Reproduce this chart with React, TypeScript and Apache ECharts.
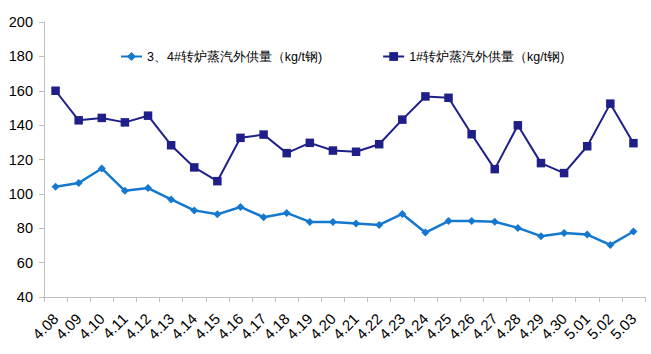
import React, { useEffect, useRef } from "react";
import * as echarts from "echarts";

const categories = ["4.08","4.09","4.10","4.11","4.12","4.13","4.14","4.15","4.16","4.17","4.18","4.19","4.20","4.21","4.22","4.23","4.24","4.25","4.26","4.27","4.28","4.29","4.30","5.01","5.02","5.03"];
const series34Name = "3、4#转炉蒸汽外供量（kg/t钢)";
const series1Name = "1#转炉蒸汽外供量（kg/t钢)";
const series34 = [104.2,106.3,114.8,101.8,103.4,96.8,90.4,88.1,92.4,86.4,88.9,83.7,83.7,82.7,81.9,88.3,77.5,84.2,84.2,83.8,80.2,75.4,77.3,76.3,70.3,78.1];
const series1 = [160.0,142.8,144.2,141.6,145.5,128.3,115.4,107.4,132.6,134.5,123.7,129.7,125.2,124.5,128.9,143.2,156.7,155.9,134.7,114.4,139.9,117.9,112.1,127.7,152.5,129.5];

const FONT = "'Liberation Sans', Arial, sans-serif";

export default function App() {
  const ref = useRef<HTMLDivElement>(null);
  useEffect(() => {
    if (!ref.current) return;
    const chart = echarts.init(ref.current, undefined, { renderer: "svg" });
    chart.setOption({
      animation: false,
      backgroundColor: "#ffffff",
      grid: { left: 44, right: 6, top: 22, bottom: 57, containLabel: false },
      legend: {
        left: 115,
        top: 45,
        itemWidth: 21,
        itemHeight: 11,
        itemGap: 60,
        textStyle: { fontSize: 12.5, color: "#000", fontFamily: FONT },
        data: [series34Name, series1Name],
      },
      xAxis: {
        type: "category",
        data: categories,
        boundaryGap: true,
        axisLine: { lineStyle: { color: "#bfbfbf", width: 1 } },
        axisTick: { show: true, alignWithLabel: false, length: 5, lineStyle: { color: "#bfbfbf" } },
        axisLabel: { rotate: 45, interval: 0, fontSize: 15, color: "#000", fontFamily: FONT, margin: 19 },
      },
      yAxis: {
        type: "value",
        min: 40,
        max: 200,
        interval: 20,
        splitLine: { show: false },
        axisLine: { show: true, lineStyle: { color: "#bfbfbf", width: 1 } },
        axisTick: { show: true, length: 5, lineStyle: { color: "#bfbfbf" } },
        axisLabel: { fontSize: 14.5, color: "#000", fontFamily: FONT, margin: 11 },
      },
      series: [
        {
          name: series34Name,
          type: "line",
          data: series34,
          symbol: "diamond",
          symbolSize: 8,
          itemStyle: { color: "#1478cf" },
          lineStyle: { color: "#1478cf", width: 2.5 },
        },
        {
          name: series1Name,
          type: "line",
          data: series1,
          symbol: "rect",
          symbolSize: 8.5,
          itemStyle: { color: "#1f1f8a" },
          lineStyle: { color: "#1f1f8a", width: 2 },
        },
      ],
    });
    return () => chart.dispose();
  }, []);
  return <div ref={ref} style={{ width: 651, height: 354, position: "absolute", left: 0, top: 0 }} />;
}
